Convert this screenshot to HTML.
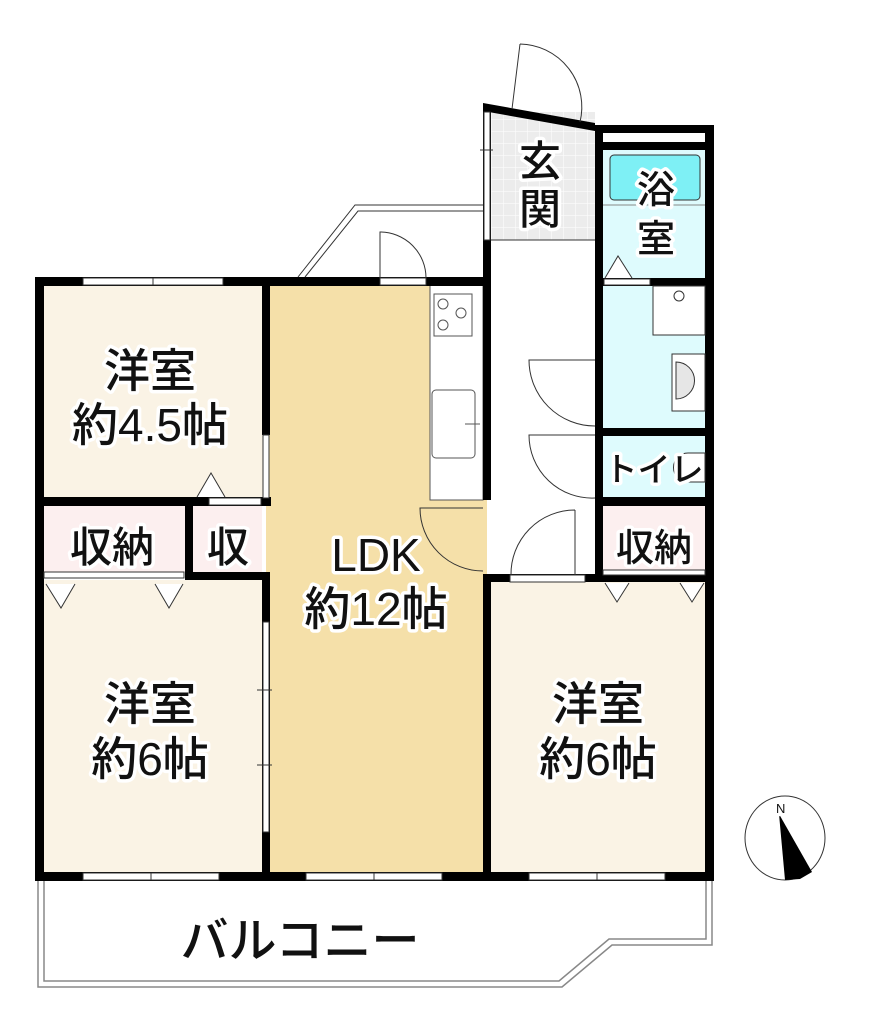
<!DOCTYPE html>
<html><head><meta charset="utf-8"><style>
html,body{margin:0;padding:0;background:#fff;}
svg{display:block;}
text{font-family:"Liberation Sans","Noto Sans CJK JP",sans-serif;fill:#111;stroke:#fff;stroke-width:7;paint-order:stroke;stroke-linejoin:round;font-weight:500;}
</style></head><body>
<svg width="875" height="1036" viewBox="0 0 875 1036" xmlns="http://www.w3.org/2000/svg">
<defs>
<pattern id="tile" width="12" height="12" patternUnits="userSpaceOnUse">
<rect width="12" height="12" fill="#ececec"/><path d="M12 0V12H0" fill="none" stroke="#fff" stroke-width="1"/>
</pattern>
</defs>
<path d="M38 880 V987 H562 L612 945 H712 V880" fill="none" stroke="#888" stroke-width="1.5"/>
<path d="M44 880 V981 H559 L609 939 H706 V880" fill="none" stroke="#888" stroke-width="1.5"/>
<rect x="40" y="281" width="226" height="220" fill="#faf3e5"/>
<rect x="40" y="580" width="226" height="296" fill="#faf3e5"/>
<rect x="266" y="281" width="221" height="595" fill="#f5e0a9"/>
<rect x="487" y="580" width="222" height="296" fill="#faf3e5"/>
<rect x="40" y="505" width="145" height="67" fill="#fcefef"/>
<rect x="193" y="505" width="69" height="67" fill="#fcefef"/>
<rect x="603" y="505" width="102" height="67" fill="#fcefef"/>
<rect x="603" y="150" width="102" height="128" fill="#defbfd"/>
<rect x="603" y="286" width="102" height="142" fill="#defbfd"/>
<rect x="603" y="436" width="102" height="61" fill="#defbfd"/>
<rect x="491" y="112" width="104" height="128" fill="url(#tile)"/>
<rect x="491" y="240" width="104" height="340" fill="#fff"/>
<rect x="610" y="155" width="90" height="45" rx="4" fill="#7ef0f5" stroke="#333" stroke-width="1"/>
<line x1="603" y1="205" x2="705" y2="205" stroke="#888" stroke-width="1"/>
<rect x="430" y="285" width="53" height="215" fill="#fff" stroke="#555" stroke-width="1"/>
<rect x="434" y="294" width="38" height="42" fill="#fff" stroke="#555"/>
<circle cx="443" cy="304" r="5" fill="none" stroke="#555"/><circle cx="461" cy="313" r="5" fill="none" stroke="#555"/><circle cx="443" cy="325" r="5" fill="none" stroke="#555"/>
<rect x="432" y="390" width="43" height="68" rx="4" fill="#fff" stroke="#555"/>
<line x1="465" y1="424" x2="480" y2="424" stroke="#555"/>
<g fill="#000">
<rect x="35" y="277" width="9" height="604"/>
<rect x="35" y="277" width="236" height="9"/>
<rect x="262" y="277" width="8" height="158"/>
<rect x="262" y="572" width="8" height="309"/>
<rect x="262" y="277" width="229" height="9"/>
<rect x="483" y="105" width="8" height="395"/>
<rect x="483" y="575" width="8" height="306"/>
<rect x="595" y="125" width="8" height="455"/>
<rect x="705" y="125" width="9" height="756"/>
<rect x="595" y="125" width="119" height="8"/>
<rect x="595" y="142" width="119" height="8"/>
<rect x="595" y="278" width="119" height="8"/>
<rect x="595" y="428" width="119" height="8"/>
<rect x="595" y="497" width="119" height="9"/>
<rect x="483" y="574" width="231" height="8"/>
<rect x="35" y="497" width="236" height="9"/>
<rect x="185" y="497" width="8" height="83"/>
<rect x="185" y="572" width="85" height="8"/>
<rect x="35" y="872" width="679" height="9"/>
<polygon points="483,103 595,123 595,131 483,111"/>
</g>
<g fill="#fff" stroke="#333" stroke-width="1">
<rect x="83" y="278" width="140" height="7"/>
<rect x="380" y="278" width="46" height="7"/>
<rect x="83" y="873" width="136" height="7"/>
<rect x="306" y="873" width="136" height="7"/>
<rect x="529" y="873" width="136" height="7"/>
<rect x="604" y="279" width="46" height="6"/>
<rect x="209" y="498" width="52" height="7"/>
<rect x="44" y="572" width="140" height="6"/>
<rect x="510" y="575" width="75" height="7"/>
<rect x="603" y="570" width="102" height="5"/>
<rect x="484" y="112" width="6" height="128"/>
<rect x="263" y="435" width="6" height="63"/>
<rect x="263" y="622" width="6" height="210"/>
</g>
<g stroke="#333" stroke-width="1" fill="none">
<line x1="153" y1="278" x2="153" y2="285"/><line x1="151" y1="873" x2="151" y2="880"/><line x1="374" y1="873" x2="374" y2="880"/><line x1="597" y1="873" x2="597" y2="880"/>
<line x1="257" y1="690" x2="272" y2="690"/><line x1="257" y1="765" x2="272" y2="765"/>
<line x1="480" y1="150" x2="493" y2="150"/>
<path d="M520 44 L512 109 M520 44 A63 63 0 0 1 580 122"/>
<path d="M380 278 V232 A46 46 0 0 1 426 278"/>
<path d="M483 508 H420 A63 63 0 0 0 483 571"/>
<path d="M595 360 H529 A66 66 0 0 0 595 426"/>
<path d="M595 435 H529 A63 63 0 0 0 595 498"/>
<path d="M575 510 V575 M575 510 A64 64 0 0 0 511 575"/>
<path d="M298 277 L355 205 H483 M305 277 L358 211 H483"/>
<line x1="491" y1="240" x2="595" y2="240"/>
<rect x="653" y="286" width="52" height="49" fill="#fff"/>
<circle cx="679" cy="296" r="5" fill="#fff"/>
<rect x="672" y="354" width="33" height="57" fill="#fff"/>
<path d="M676 362 A18 18 0 0 1 676 399 Z" fill="#e6e6e6"/>
<path d="M688 453 H705 V482 H688 A14 14 0 0 1 688 453Z" fill="#fff"/>
<path d="M197 497 L211 473 L225 497" fill="#fff"/>
<path d="M46 584 L61 608 L75 584 M155 584 L169 608 L183 584" fill="#fff"/>
<path d="M605 278 L618 256 L632 278" fill="#fff"/>
<path d="M605 583 L617 602 L629 583 M680 583 L692 602 L704 583" fill="#fff"/>
</g>
<g font-size="46" text-anchor="middle">
<text x="150" y="387">洋室</text>
<text x="150" y="441">約4.5帖</text>
<text x="112" y="562" font-size="42">収納</text>
<text x="228" y="562" font-size="42">収</text>
<text x="376" y="571">LDK</text>
<text x="376" y="625">約12帖</text>
<text x="150" y="720">洋室</text>
<text x="150" y="775">約6帖</text>
<text x="598" y="720">洋室</text>
<text x="598" y="775">約6帖</text>
<text x="654" y="561" font-size="38">収納</text>
<text x="540" y="176" font-size="42">玄</text>
<text x="540" y="224" font-size="42">関</text>
<text x="656" y="203" font-size="38">浴</text>
<text x="656" y="252" font-size="38">室</text>
<text x="654" y="481" font-size="33">トイレ</text>
<text x="300" y="957" font-size="48">バルコニー</text>
</g>
<ellipse cx="785" cy="838" rx="40" ry="42" fill="#fff" stroke="#333" stroke-width="1"/>
<polygon points="779,814 812,872 800,879 785,880" fill="#000"/>
<text x="776" y="813" font-size="13" font-family="Liberation Serif" stroke-width="0" font-weight="bold">N</text>
</svg>
</body></html>
